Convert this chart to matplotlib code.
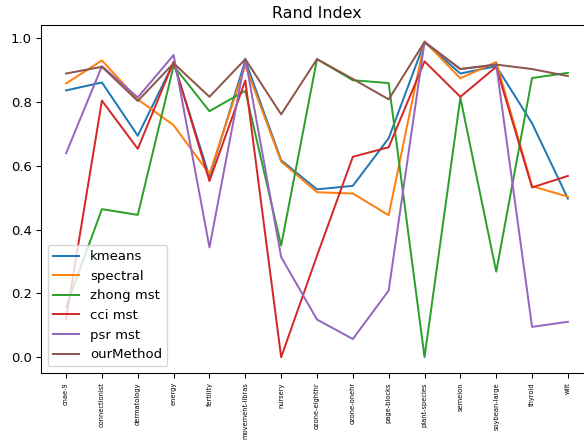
import numpy as np
import matplotlib
matplotlib.use('Agg')
import matplotlib.pyplot as plt

# datasets on the x axis
datasets = ['cnae-9', 'connectionist', 'dermatology', 'energy', 'fertility',
            'movement-libras', 'nursery', 'ozone-eighthr', 'ozone-onehr',
            'page-blocks', 'plant-species', 'semeion', 'soybean-large',
            'thyroid', 'wilt']

# Rand index per method
kmeans = [0.836, 0.861, 0.694, 0.923, 0.565, 0.930, 0.617, 0.526, 0.537,
          0.686, 0.987, 0.889, 0.912, 0.733, 0.497]
spectral = [0.858, 0.930, 0.808, 0.727, 0.574, 0.915, 0.613, 0.517, 0.513,
            0.445, 0.990, 0.874, 0.925, 0.536, 0.503]
zhong_mst = [0.158, 0.464, 0.446, 0.913, 0.771, 0.835, 0.350, 0.934, 0.868,
             0.859, 0.0, 0.813, 0.268, 0.875, 0.891]
cci_mst = [0.121, 0.804, 0.653, 0.926, 0.552, 0.867, 0.0, 0.318, 0.628,
           0.658, 0.927, 0.816, 0.910, 0.532, 0.568]
psr_mst = [0.639, 0.912, 0.814, 0.947, 0.344, 0.936, 0.314, 0.118, 0.057,
           0.209, 0.987, 0.903, 0.917, 0.095, 0.111]
our_method = [0.889, 0.910, 0.803, 0.921, 0.816, 0.934, 0.761, 0.934, 0.872,
              0.808, 0.988, 0.903, 0.917, 0.903, 0.881]

series = [('kmeans', kmeans), ('spectral', spectral), ('zhong mst', zhong_mst),
          ('cci mst', cci_mst), ('psr mst', psr_mst), ('ourMethod', our_method)]

# reference looks like a default figure drawn slightly smaller (~95 dpi)
DPI = 95
fig = plt.figure(figsize=(584 / DPI, 441 / DPI), dpi=DPI)
# the original image is cropped on the right, so the axes run past the edge
ax = fig.add_axes([0.0702, 0.1542, 0.9452, 0.788])

x = np.arange(len(datasets))
for name, vals in series:
    ax.plot(x, vals, label=name, linewidth=1.5)

ax.set_xticks(x)
ax.set_xticklabels(datasets, rotation=90, fontsize=5)
ax.set_yticks([0.0, 0.2, 0.4, 0.6, 0.8, 1.0])
ax.set_title('Rand Index')
ax.legend(loc='lower left')

fig.savefig('out.png', dpi=DPI)
